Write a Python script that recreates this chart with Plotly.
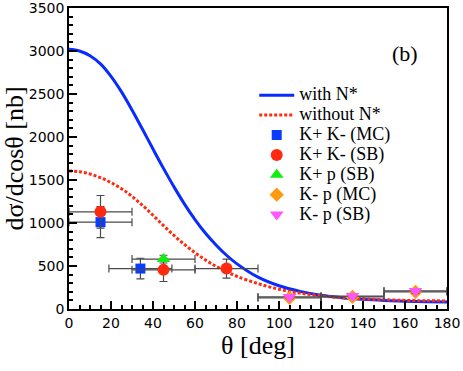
import plotly.graph_objects as go

# --- theory curves ---------------------------------------------------------
theta_curve = [0, 5, 10, 15, 20, 25, 30, 35, 40, 45, 50, 55, 60, 65, 70, 75,
               80, 90, 100, 110, 120, 130, 140, 150, 160, 170, 180]
with_nstar = [3020, 3000, 2945, 2850, 2705, 2525, 2315, 2090, 1860, 1635, 1420,
              1220, 1040, 880, 745, 625, 525, 370, 270, 205, 160, 132, 113,
              100, 91, 85, 82]
without_nstar = [1605, 1597, 1570, 1527, 1470, 1398, 1310, 1205, 1090, 970,
                 855, 750, 655, 570, 497, 435, 380, 295, 230, 185, 153, 132,
                 118, 108, 100, 96, 94]

# --- data points -------------------------------------------------------------
kpkm_mc_x = [15, 34]
kpkm_mc_y = [1010, 470]
kpkm_mc_ex = [15, 15]
kpkm_mc_ey = [180, 120]

kpkm_sb_x = [15, 45, 75]
kpkm_sb_y = [1130, 455, 470]
kpkm_sb_ex = [15, 15, 15]
kpkm_sb_ey = [190, 135, 110]

kpp_sb_x = [45]
kpp_sb_y = [580]
kpp_sb_ex = [15]
kpp_sb_ey = [45]

kmp_mc_x = [105, 135, 165]
kmp_mc_y = [130, 140, 200]
kmp_mc_ex = [15, 15, 15]
kmp_mc_ey = [20, 20, 25]

kmp_sb_x = [105, 135, 165]
kmp_sb_y = [140, 150, 210]
kmp_sb_ex = [15, 15, 15]
kmp_sb_ey = [20, 20, 25]

SERIF = "Liberation Serif, Times New Roman, serif"
SANS = "DejaVu Sans, sans-serif"
ERR = "#4a4a4a"


def big(name):
    # legend text drawn larger than the row spacing plotly derives from the font
    return f'<span style="font-size:18px">{name}</span>'


fig = go.Figure()

fig.add_trace(go.Scatter(
    x=theta_curve, y=with_nstar, mode="lines", name=big("with N*"),
    line=dict(color="#0a2bff", width=3, shape="spline"),
))
fig.add_trace(go.Scatter(
    x=theta_curve, y=without_nstar, mode="lines", name=big("without N*"),
    line=dict(color="#ff2a10", width=3, dash="3px,2px", shape="spline"),
))


def points(x, y, ex, ey, name, symbol, color, size=11):
    fig.add_trace(go.Scatter(
        x=x, y=y, mode="markers", name=big(name),
        marker=dict(symbol=symbol, color=color, size=size),
        error_x=dict(type="data", array=ex, color=ERR, thickness=1.2, width=4),
        error_y=dict(type="data", array=ey, color=ERR, thickness=1.2, width=4),
    ))


points(kpkm_mc_x, kpkm_mc_y, kpkm_mc_ex, kpkm_mc_ey,
       "K+ K- (MC)", "square", "#0a3cff", 10)
points(kpkm_sb_x, kpkm_sb_y, kpkm_sb_ex, kpkm_sb_ey,
       "K+ K- (SB)", "circle", "#ff2a10", 12)
points(kpp_sb_x, kpp_sb_y, kpp_sb_ex, kpp_sb_ey,
       "K+ p (SB)", "triangle-up", "#11ee11", 12)
points(kmp_mc_x, kmp_mc_y, kmp_mc_ex, kmp_mc_ey,
       "K- p (MC)", "diamond", "#ff9a10", 11)
points(kmp_sb_x, kmp_sb_y, kmp_sb_ex, kmp_sb_ey,
       "K- p (SB)", "triangle-down", "#ff55ff", 12)

axis_common = dict(
    showline=True, linecolor="black", linewidth=1.5, mirror=True,
    ticks="inside", ticklen=8, tickwidth=1.5, tickcolor="black",
    showgrid=False, zeroline=False, automargin=False,
    ticklabeloverflow="allow",
    tickfont=dict(family=SANS, size=14, color="black"),
)

fig.update_xaxes(
    range=[0, 180], dtick=20, tick0=0,
    minor=dict(dtick=5, ticks="inside", ticklen=4, tickcolor="black"),
    title=dict(text="θ [deg]", font=dict(family=SERIF, size=26, color="black"),
               standoff=2),
    **axis_common,
)
fig.update_yaxes(
    range=[0, 3500], dtick=500, tick0=0,
    minor=dict(dtick=100, ticks="inside", ticklen=4, tickcolor="black"),
    title=dict(text="dσ/dcosθ [nb]", font=dict(family=SERIF, size=26, color="black"),
               standoff=4),
    **axis_common,
)

fig.add_annotation(
    x=0.89, y=0.85, xref="paper", yref="paper", text="(b)", showarrow=False,
    xanchor="center", yanchor="middle",
    font=dict(family=SERIF, size=22, color="black"),
)

fig.update_layout(
    width=463, height=371,
    margin=dict(l=69, r=16, t=8, b=62),
    paper_bgcolor="white", plot_bgcolor="white",
    legend=dict(
        x=0.49, y=0.76, xanchor="left", yanchor="top",
        font=dict(family=SERIF, size=13, color="black"),
        bgcolor="rgba(0,0,0,0)", itemwidth=35, tracegroupgap=0,
    ),
)

fig.write_html("out.html", config={"displayModeBar": False},
               post_script="document.body.style.margin='0';")
